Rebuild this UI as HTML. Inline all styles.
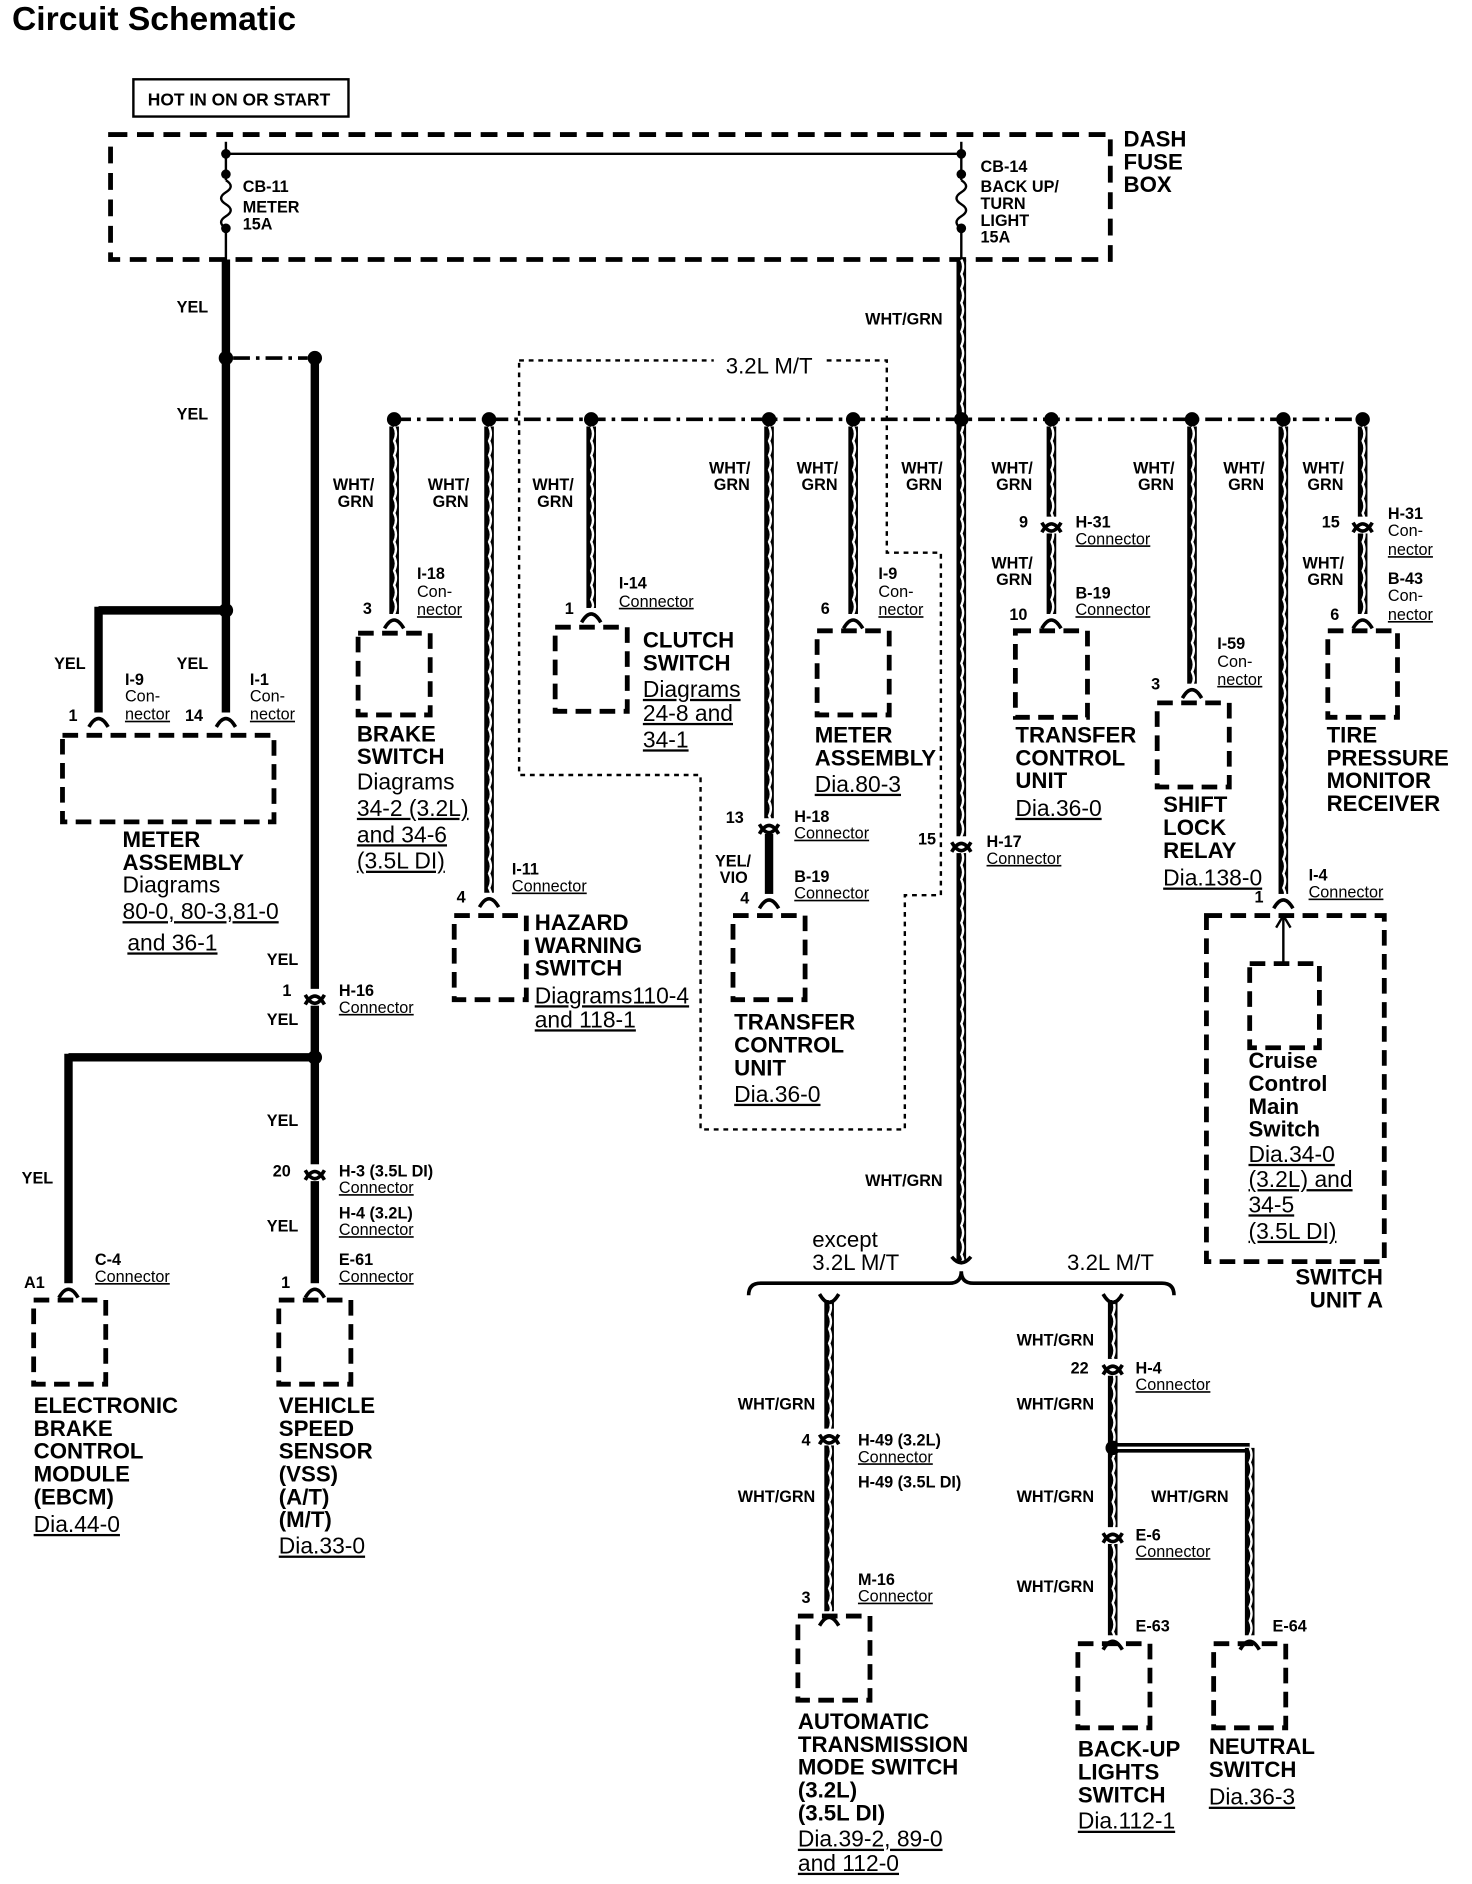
<!DOCTYPE html>
<html><head><meta charset="utf-8"><style>
html,body{margin:0;padding:0;background:#fff}
svg{display:block}
text{font-family:"Liberation Sans",sans-serif;fill:#000}
.t{font-size:28px;font-weight:bold}
.b{font-size:18.5px;font-weight:bold}
.n{font-size:19px}
.s{font-size:13.5px;font-weight:bold}
.c{font-size:13.5px}
.u{text-decoration:underline}
.m{font-size:18.5px}
</style></head><body>
<svg id="sv" width="1472" height="1884" viewBox="0 0 1225 1568" preserveAspectRatio="none" xmlns="http://www.w3.org/2000/svg">
<g id="g"></g>
<text class="t" x="10" y="25">Circuit Schematic</text>
<rect x="111" y="66" width="179" height="31" fill="none" stroke="#000" stroke-width="2"/>
<text class="s" x="123" y="88" style="font-size:14.5px">HOT IN ON OR START</text>
<text class="b" x="935" y="122">DASH</text><text class="b" x="935" y="141">FUSE</text><text class="b" x="935" y="160">BOX</text>
<text class="s" x="202" y="160">CB-11</text><text class="s" x="202" y="177">METER</text><text class="s" x="202" y="191">15A</text>
<text class="s" x="816" y="143">CB-14</text><text class="s" x="816" y="160">BACK UP/</text><text class="s" x="816" y="174">TURN</text><text class="s" x="816" y="188">LIGHT</text><text class="s" x="816" y="202">15A</text>
<text class="s" x="147" y="260">YEL</text><text class="s" x="147" y="349">YEL</text>
<text class="s" x="720" y="270">WHT/GRN</text>
<rect x="594" y="294" width="92" height="22" fill="#fff"/>
<text class="m" x="604" y="311">3.2L M/T</text>
<text class="s" x="277" y="408">WHT/</text><text class="s" x="281" y="422">GRN</text>
<text class="s" x="356" y="408">WHT/</text><text class="s" x="360" y="422">GRN</text>
<text class="s" x="443" y="408">WHT/</text><text class="s" x="447" y="422">GRN</text>
<text class="s" x="590" y="394">WHT/</text><text class="s" x="594" y="408">GRN</text>
<text class="s" x="663" y="394">WHT/</text><text class="s" x="667" y="408">GRN</text>
<text class="s" x="750" y="394">WHT/</text><text class="s" x="754" y="408">GRN</text>
<text class="s" x="825" y="394">WHT/</text><text class="s" x="829" y="408">GRN</text>
<text class="s" x="943" y="394">WHT/</text><text class="s" x="947" y="408">GRN</text>
<text class="s" x="1018" y="394">WHT/</text><text class="s" x="1022" y="408">GRN</text>
<text class="s" x="1084" y="394">WHT/</text><text class="s" x="1088" y="408">GRN</text>
<text class="s" x="825" y="473">WHT/</text><text class="s" x="829" y="487">GRN</text>
<text class="s" x="1084" y="473">WHT/</text><text class="s" x="1088" y="487">GRN</text>
<text class="s" x="302" y="511">3</text><text class="s" x="347" y="482">I-18</text><text class="c" x="347" y="497">Con-</text><text class="c u" x="347" y="512">nector</text>
<text class="s" x="470" y="511">1</text><text class="s" x="515" y="490">I-14</text><text class="c u" x="515" y="505">Connector</text>
<text class="s" x="683" y="511">6</text><text class="s" x="731" y="482">I-9</text><text class="c" x="731" y="497">Con-</text><text class="c u" x="731" y="512">nector</text>
<text class="s" x="848" y="439">9</text><text class="s" x="895" y="439">H-31</text><text class="c u" x="895" y="453">Connector</text>
<text class="s" x="840" y="516">10</text><text class="s" x="895" y="498">B-19</text><text class="c u" x="895" y="512">Connector</text>
<text class="s" x="958" y="574">3</text><text class="s" x="1013" y="540">I-59</text><text class="c" x="1013" y="555">Con-</text><text class="c u" x="1013" y="570">nector</text>
<text class="s" x="1100" y="439">15</text><text class="s" x="1155" y="432">H-31</text><text class="c" x="1155" y="446">Con-</text><text class="c u" x="1155" y="462">nector</text>
<text class="s" x="1107" y="516">6</text><text class="s" x="1155" y="486">B-43</text><text class="c" x="1155" y="500">Con-</text><text class="c u" x="1155" y="516">nector</text>
<text class="s" x="380" y="751">4</text><text class="s" x="426" y="728">I-11</text><text class="c u" x="426" y="742">Connector</text>
<text class="s" x="604" y="685">13</text><text class="s" x="661" y="684">H-18</text><text class="c u" x="661" y="698">Connector</text>
<text class="s" x="595" y="721">YEL/</text><text class="s" x="599" y="735">VIO</text>
<text class="s" x="616" y="752">4</text><text class="s" x="661" y="734">B-19</text><text class="c u" x="661" y="748">Connector</text>
<text class="s" x="764" y="703">15</text><text class="s" x="821" y="705">H-17</text><text class="c u" x="821" y="719">Connector</text>
<text class="s" x="1044" y="751">1</text><text class="s" x="1089" y="733">I-4</text><text class="c u" x="1089" y="747">Connector</text>
<text class="s" x="45" y="557">YEL</text><text class="s" x="147" y="557">YEL</text>
<text class="s" x="57" y="600">1</text><text class="s" x="104" y="570">I-9</text><text class="c" x="104" y="584">Con-</text><text class="c u" x="104" y="599">nector</text>
<text class="s" x="154" y="600">14</text><text class="s" x="208" y="570">I-1</text><text class="c" x="208" y="584">Con-</text><text class="c u" x="208" y="599">nector</text>
<text class="s" x="222" y="803">YEL</text><text class="s" x="222" y="853">YEL</text>
<text class="s" x="235" y="829">1</text><text class="s" x="282" y="829">H-16</text><text class="c u" x="282" y="843">Connector</text>
<text class="s" x="222" y="937">YEL</text><text class="s" x="18" y="985">YEL</text><text class="s" x="222" y="1025">YEL</text>
<text class="s" x="227" y="979">20</text><text class="s" x="282" y="979">H-3 (3.5L DI)</text><text class="c u" x="282" y="993">Connector</text>
<text class="s" x="282" y="1014">H-4 (3.2L)</text><text class="c u" x="282" y="1028">Connector</text>
<text class="s" x="20" y="1072">A1</text><text class="s" x="79" y="1053">C-4</text><text class="c u" x="79" y="1067">Connector</text>
<text class="s" x="234" y="1072">1</text><text class="s" x="282" y="1053">E-61</text><text class="c u" x="282" y="1067">Connector</text>
<text class="b" x="102" y="705">METER</text><text class="b" x="102" y="724">ASSEMBLY</text><text class="n" x="102" y="743">Diagrams</text>
<text class="n u" x="102" y="765">80-0, 80-3,81-0</text><text class="n u" x="106" y="791">and 36-1</text>
<text class="b" x="297" y="617">BRAKE</text><text class="b" x="297" y="636">SWITCH</text><text class="n" x="297" y="657">Diagrams</text>
<text class="n u" x="297" y="679">34-2 (3.2L)</text><text class="n u" x="297" y="701">and 34-6</text><text class="n u" x="297" y="723">(3.5L DI)</text>
<text class="b" x="445" y="774">HAZARD</text><text class="b" x="445" y="793">WARNING</text><text class="b" x="445" y="812">SWITCH</text>
<text class="n u" x="445" y="835">Diagrams110-4</text><text class="n u" x="445" y="855">and 118-1</text>
<text class="b" x="535" y="539">CLUTCH</text><text class="b" x="535" y="558">SWITCH</text><text class="n u" x="535" y="580">Diagrams</text><text class="n u" x="535" y="600">24-8 and</text><text class="n u" x="535" y="622">34-1</text>
<text class="b" x="678" y="618">METER</text><text class="b" x="678" y="637">ASSEMBLY</text><text class="n u" x="678" y="659">Dia.80-3</text>
<text class="b" x="611" y="857">TRANSFER</text><text class="b" x="611" y="876">CONTROL</text><text class="b" x="611" y="895">UNIT</text><text class="n u" x="611" y="917">Dia.36-0</text>
<text class="b" x="845" y="618">TRANSFER</text><text class="b" x="845" y="637">CONTROL</text><text class="b" x="845" y="656">UNIT</text><text class="n u" x="845" y="679">Dia.36-0</text>
<text class="b" x="968" y="676">SHIFT</text><text class="b" x="968" y="695">LOCK</text><text class="b" x="968" y="714">RELAY</text><text class="n u" x="968" y="737">Dia.138-0</text>
<text class="b" x="1104" y="618">TIRE</text><text class="b" x="1104" y="637">PRESSURE</text><text class="b" x="1104" y="656">MONITOR</text><text class="b" x="1104" y="675">RECEIVER</text>
<text class="b" x="1039" y="889">Cruise</text><text class="b" x="1039" y="908">Control</text><text class="b" x="1039" y="927">Main</text><text class="b" x="1039" y="946">Switch</text>
<text class="n u" x="1039" y="967">Dia.34-0</text><text class="n u" x="1039" y="988">(3.2L) and</text><text class="n u" x="1039" y="1009">34-5</text><text class="n u" x="1039" y="1031">(3.5L DI)</text>
<text class="b" x="1078" y="1069">SWITCH</text><text class="b" x="1090" y="1088">UNIT A</text>
<text class="b" x="28" y="1176">ELECTRONIC</text><text class="b" x="28" y="1195">BRAKE</text><text class="b" x="28" y="1214">CONTROL</text><text class="b" x="28" y="1233">MODULE</text><text class="b" x="28" y="1252">(EBCM)</text><text class="n u" x="28" y="1275">Dia.44-0</text>
<text class="b" x="232" y="1176">VEHICLE</text><text class="b" x="232" y="1195">SPEED</text><text class="b" x="232" y="1214">SENSOR</text><text class="b" x="232" y="1233">(VSS)</text><text class="b" x="232" y="1252">(A/T)</text><text class="b" x="232" y="1271">(M/T)</text><text class="n u" x="232" y="1293">Dia.33-0</text>
<text class="s" x="720" y="987">WHT/GRN</text>
<text class="m" x="676" y="1038">except</text><text class="m" x="676" y="1057">3.2L M/T</text><text class="m" x="888" y="1057">3.2L M/T</text>
<text class="s" x="614" y="1173">WHT/GRN</text><text class="s" x="614" y="1250">WHT/GRN</text>
<text class="s" x="667" y="1203">4</text><text class="s" x="714" y="1203">H-49 (3.2L)</text><text class="c u" x="714" y="1217">Connector</text><text class="s" x="714" y="1238">H-49 (3.5L DI)</text>
<text class="s" x="667" y="1334">3</text><text class="s" x="714" y="1319">M-16</text><text class="c u" x="714" y="1333">Connector</text>
<text class="s" x="846" y="1120">WHT/GRN</text><text class="s" x="846" y="1173">WHT/GRN</text><text class="s" x="846" y="1250">WHT/GRN</text><text class="s" x="846" y="1325">WHT/GRN</text>
<text class="s" x="958" y="1250">WHT/GRN</text>
<text class="s" x="891" y="1143">22</text><text class="s" x="945" y="1143">H-4</text><text class="c u" x="945" y="1157">Connector</text>
<text class="s" x="945" y="1282">E-6</text><text class="c u" x="945" y="1296">Connector</text>
<text class="s" x="945" y="1358">E-63</text><text class="s" x="1059" y="1358">E-64</text>
<text class="b" x="664" y="1439">AUTOMATIC</text><text class="b" x="664" y="1458">TRANSMISSION</text><text class="b" x="664" y="1477">MODE SWITCH</text><text class="b" x="664" y="1496">(3.2L)</text><text class="b" x="664" y="1515">(3.5L DI)</text>
<text class="n u" x="664" y="1537">Dia.39-2, 89-0</text><text class="n u" x="664" y="1557">and 112-0</text>
<text class="b" x="897" y="1462">BACK-UP</text><text class="b" x="897" y="1481">LIGHTS</text><text class="b" x="897" y="1500">SWITCH</text><text class="n u" x="897" y="1522">Dia.112-1</text>
<text class="b" x="1006" y="1460">NEUTRAL</text><text class="b" x="1006" y="1479">SWITCH</text><text class="n u" x="1006" y="1502">Dia.36-3</text>
</svg>
<script>
var g=document.getElementById('g'),NS='http://www.w3.org/2000/svg';
function el(t,a){var e=document.createElementNS(NS,t);for(var k in a)e.setAttribute(k,a[k]);g.appendChild(e);return e;}
function L(x1,y1,x2,y2,w,d){var a={x1:x1,y1:y1,x2:x2,y2:y2,stroke:'#000','stroke-width':w||2};if(d)a['stroke-dasharray']=d;return el('line',a);}
function P(d,w,dash){var a={d:d,fill:'none',stroke:'#000','stroke-width':w||2};if(dash)a['stroke-dasharray']=dash;return el('path',a);}
function dot(x,y,r){el('circle',{cx:x,cy:y,r:r||6,fill:'#000'});}
function box(x1,y1,x2,y2){el('rect',{x:x1,y:y1,width:x2-x1,height:y2-y1,fill:'none',stroke:'#000','stroke-width':4,'stroke-dasharray':'13,7'});}
function stripe(x,y1,y2){L(x,y1,x,y2,8);var d='M'+x+','+y1;for(var y=y1;y<y2;y+=12){d+=' Q'+(x+3)+','+(y+6)+' '+x+','+Math.min(y+12,y2);} P(d,2).setAttribute('stroke','#fff');}
function stripeH(x1,x2,y){L(x1,y,x2,y,8);L(x1,y,x2,y,2).setAttribute('stroke','#fff');}
function cap(x,y){el('rect',{x:x-8,y:y-4,width:16,height:12,fill:'#fff'});P('M'+(x-8)+','+(y+8)+' Q'+x+','+(y-6)+' '+(x+8)+','+(y+8),3);}
function cup(x,y){P('M'+(x-8)+','+(y-8)+' Q'+x+','+(y+6)+' '+(x+8)+','+(y-8),3);}
function conn(x,y){el('rect',{x:x-9,y:y-7,width:18,height:14,fill:'#fff'});cap(x,y-2);cup(x,y+6);}
el('rect',{x:92,y:112,width:832,height:104,fill:'none',stroke:'#000','stroke-width':4,'stroke-dasharray':'14,8'});
L(188,128,800,128,2);
[188,800].forEach(function(x){L(x,118,x,150,2);P('M'+x+',150 q8,5 0,10 q-8,5 0,10 q8,5 0,10 q-8,5 0,10',2);L(x,190,x,216,2);dot(x,128,4);dot(x,145,4);dot(x,190,4);});
L(188,216,188,508,7);dot(188,298);L(194,298,256,298,3,'14,5,3,5');dot(262,298);
L(188,508,82,508,7);L(82,505,82,595,7);cap(82,597);L(188,508,188,595,7);cap(188,597);dot(188,508);
box(52,612,228,684);
L(262,298,262,1070,7);conn(262,830);dot(262,880);L(262,880,57,880,7);L(57,877,57,1070,7);cap(57,1072);
conn(262,976);cap(262,1072);box(28,1082,88,1152);box(232,1082,292,1152);
stripe(800,216,1050);
L(328,349,1134,349,3,'14,5,3,5');
[328,407,492,640,710,800,875,992,1068,1134].forEach(function(x){dot(x,349);});
P('M432,300 H738 V460 H783 V745 H753 V940 H583 V645 H432 Z',2,'4,4');
stripe(328,355,512);cap(328,515);box(298,527,358,595);
stripe(407,355,744);cap(407,747);box(378,762,438,832);
stripe(492,355,507);cap(492,510);box(462,522,522,592);
stripe(640,355,688);conn(640,688);L(640,694,640,745,7);cap(640,748);box(610,762,670,832);
stripe(710,355,512);cap(710,515);box(680,525,740,595);
stripe(875,355,512);conn(875,437);cap(875,515);box(845,525,905,597);
stripe(992,355,570);cap(992,573);box(963,585,1023,655);
stripe(1068,355,745);cap(1068,748);
stripe(1134,355,512);conn(1134,437);cap(1134,515);box(1105,525,1163,597);
conn(800,703);
box(1004,762,1152,1050);box(1040,802,1098,872);L(1068,762,1068,802,2);P('M1062,772 L1068,762 L1074,772',2);
P('M623,1078 Q623,1068 633,1068 H790 Q800,1068 800,1058 Q800,1068 810,1068 H967 Q977,1068 977,1078',3);
P('M792,1046 Q800,1056 808,1046',3);
stripe(690,1082,1342);cup(690,1085);conn(690,1196);cap(690,1345);box(664,1345,724,1415);
stripe(926,1082,1362);cup(926,1085);conn(926,1138);dot(926,1205);conn(926,1278);cap(926,1365);box(897,1368,957,1438);
stripeH(930,1040,1205);stripe(1040,1205,1362);cap(1040,1365);box(1010,1368,1070,1438);
</script>
</body></html>
